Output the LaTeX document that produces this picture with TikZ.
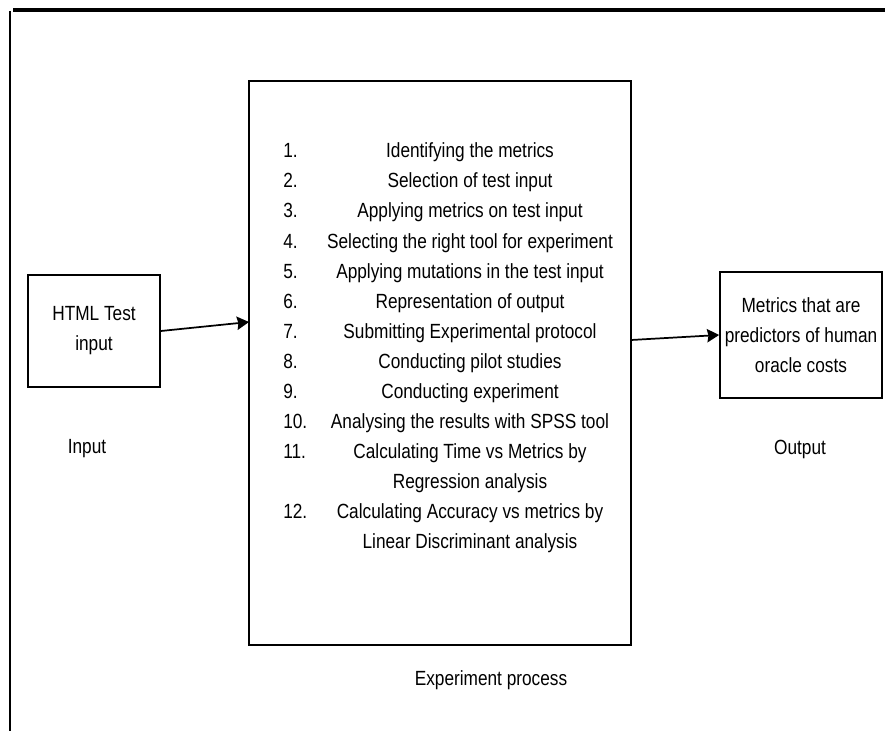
\documentclass[tikz,border=0pt]{standalone}
\usepackage{fontspec}
\setmainfont{Liberation Sans}[FakeStretch=0.84]
\usetikzlibrary{arrows.meta,fit}
\begin{document}
\begin{tikzpicture}[x=0.75pt,y=-0.75pt,
  every node/.style={font=\fontsize{15.4}{22.5}\selectfont, inner sep=0pt},
  frame/.style={draw, line width=1.3pt, inner sep=0pt},
  arr/.style={-{Stealth[length=9pt,width=10pt,inset=1pt]}, line width=1.3pt},
  num/.style={anchor=base west},
  stepitem/.style={anchor=base}]
\useasboundingbox (0,0) rectangle (885,731);
% page rules
\draw[line width=3pt] (13,10) -- (885,10);
\draw[line width=1.9pt] (10,11) -- (10,731);

% boxes
\node[frame, fit={(28,275) (160,387)}] (html) {};
\node[align=center] (htmltxt) at (html.center) {HTML Test\\input};
\node[frame, fit={(249,81) (631,645)}] (main) {};
\node[frame, fit={(720,272) (882,398)}] (out) {};
\node[align=center] (outtxt) at (out.center) {Metrics that are\\predictors of human\\oracle costs};

% connectors
\coordinate (mainin) at (249,322);
\coordinate (mainout) at (631,340);
\draw[arr] (html.east) -- (mainin);
\draw[arr] (mainout) -- (out.west);

% captions
\node (inlbl) at (87,449) {Input};
\node (outlbl) at (800,449) {Output};
\node (explbl) at (491,680) {Experiment process};

% process steps
\foreach \k/\n/\t in {
  0/1./Identifying the metrics,
  1/2./Selection of test input,
  2/3./Applying metrics on test input,
  3/4./Selecting the right tool for experiment,
  4/5./Applying mutations in the test input,
  5/6./Representation of output,
  6/7./Submitting Experimental protocol,
  7/8./Conducting pilot studies,
  8/9./Conducting experiment,
  9/10./Analysing the results with SPSS tool,
  10/11./Calculating Time vs Metrics by,
  12/12./Calculating Accuracy vs metrics by}{
  \node[num] (n\k) at (283,158+30*\k) {\n};
  \node[stepitem] (s\k) at (470,158+30*\k) {\t};
}
\node[stepitem] (s11) at (470,158+30*11) {Regression analysis};
\node[stepitem] (s13) at (470,158+30*13) {Linear Discriminant analysis};
\end{tikzpicture}
\end{document}
